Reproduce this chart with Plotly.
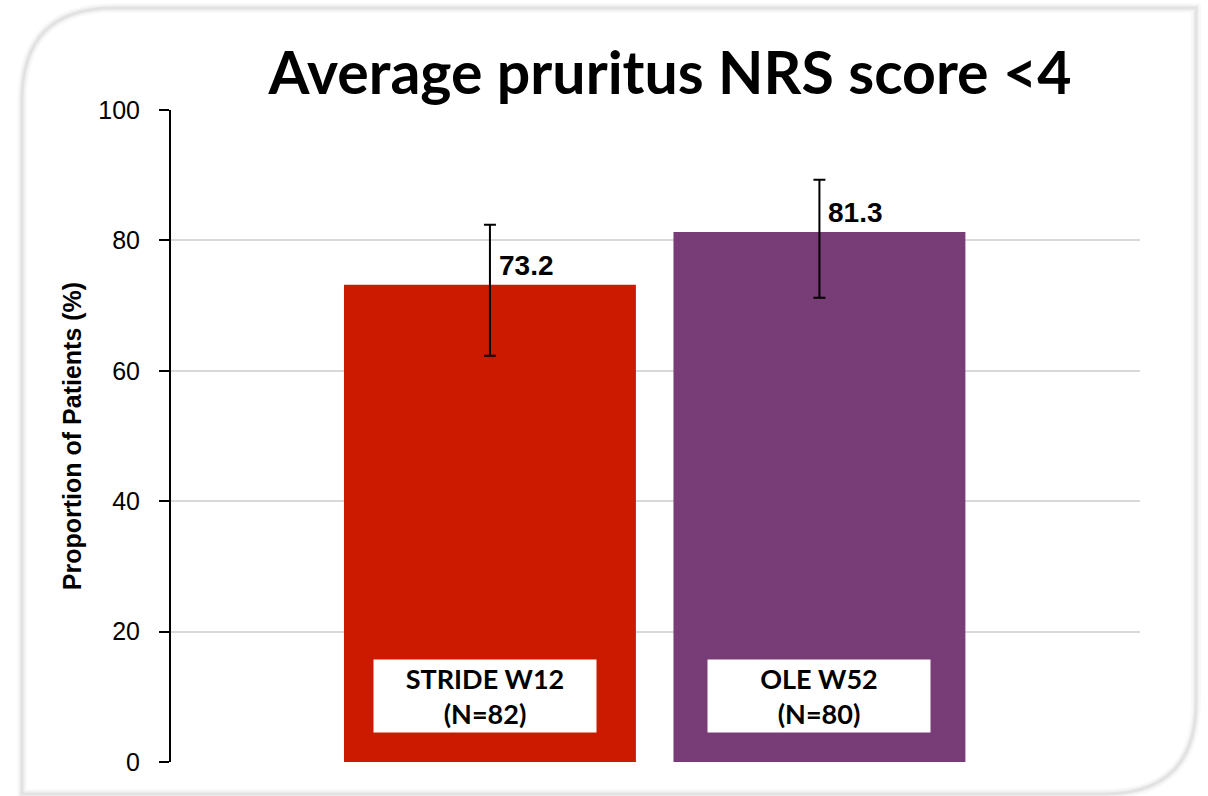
import plotly.graph_objects as go

# data
categories = ["STRIDE W12<br>(N=82)", "OLE W52<br>(N=80)"]
values = [73.2, 81.3]
err_plus = [9.2, 8.0]
err_minus = [10.9, 10.1]
bar_colors = ["#CC1A00", "#783C77"]
y_ticks = [0, 20, 40, 60, 80, 100]

W, H = 1208, 796
L, R, T, B = 171, 1140, 110, 762


def px(x, y):
    # pixel -> paper coordinates of the plot area
    return (x - L) / (R - L), (B - y) / (B - T)


def frame_path(x0, y0, x1, y1, r):
    pts = []
    a = px(x0, y0 + r); pts.append("M %f %f" % a)
    c = px(x0, y0); e = px(x0 + r, y0)
    pts.append("Q %f %f %f %f" % (c[0], c[1], e[0], e[1]))
    pts.append("L %f %f" % px(x1, y0))
    pts.append("L %f %f" % px(x1, y1 - r))
    c = px(x1, y1); e = px(x1 - r, y1)
    pts.append("Q %f %f %f %f" % (c[0], c[1], e[0], e[1]))
    pts.append("L %f %f" % px(x0, y1))
    pts.append("Z")
    return " ".join(pts)


xs = list(range(len(categories)))
box_shift = [-5, 0]

fig = go.Figure()
fig.add_trace(go.Bar(
    x=xs, y=values, width=0.886,
    marker=dict(color=bar_colors, line=dict(width=0)),
    error_y=dict(type="data", symmetric=False, array=err_plus, arrayminus=err_minus,
                 color="black", thickness=2, width=6),
    hoverinfo="skip",
))

annotations = []
for i, v in enumerate(values):
    annotations.append(dict(x=xs[i], y=v, xref="x", yref="y", text="<b>%.1f</b>" % v,
                            xanchor="left", yanchor="bottom", xshift=7, yshift=2,
                            showarrow=False,
                            font=dict(family="Liberation Sans, Arial", size=28, color="black")))
    annotations.append(dict(x=xs[i], y=10.1, xref="x", yref="y", text="<b>%s</b>" % categories[i],
                            xshift=box_shift[i], showarrow=False, bgcolor="white",
                            width=220, height=70,
                            font=dict(family="Lato, Open Sans", size=27, color="black")))

fig.update_layout(
    width=W, height=H,
    margin=dict(l=L, r=W - R, t=T, b=H - B, pad=0),
    paper_bgcolor="white", plot_bgcolor="white",
    showlegend=False,
    title=dict(text="<b>Average pruritus NRS score <4</b>", x=670 / W, xanchor="center",
               y=1 - 73 / H, yanchor="middle",
               font=dict(family="Lato, Open Sans", size=59, color="black")),
    xaxis=dict(range=[-0.968, 1.973], showticklabels=False, showgrid=False, zeroline=False,
               showline=False, ticks=""),
    yaxis=dict(range=[0, 100], tickvals=y_ticks, showgrid=True, gridcolor="#d9d9d9", gridwidth=2,
               zeroline=False, showline=True, linecolor="black", linewidth=2,
               ticks="outside", ticklen=10, tickwidth=2, tickcolor="black",
               ticklabelstandoff=14,
               tickfont=dict(family="Liberation Sans, Arial", size=25, color="black"),
               title=dict(text="<b>Proportion of Patients (%)</b>", standoff=10,
                          font=dict(family="Liberation Sans, Arial", size=25, color="black"))),
    annotations=annotations,
)

path = frame_path(22, 8, 1196, 794, 92)
for wdt, col in [(10, "rgba(0,0,0,0.025)"), (6, "rgba(0,0,0,0.035)"), (3, "rgba(0,0,0,0.05)"),
                 (1, "#e2e2e2")]:
    fig.add_shape(type="path", path=path, xref="paper", yref="paper",
                  line=dict(color=col, width=wdt), layer="below")

fig.write_html("out.html", config={"displayModeBar": False},
               post_script="document.body.style.margin='0';")
